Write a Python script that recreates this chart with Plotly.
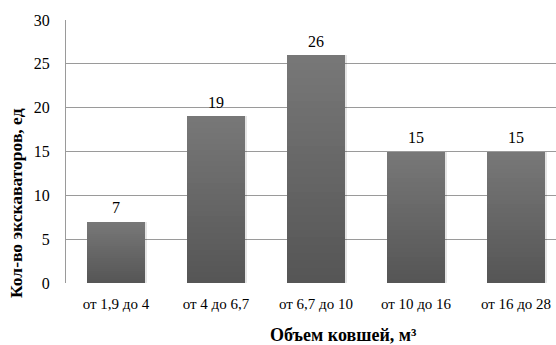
import plotly.graph_objects as go

# Bucket volume ranges and excavator counts
categories = ["от 1,9 до 4", "от 4 до 6,7", "от 6,7 до 10", "от 10 до 16", "от 16 до 28"]
counts = [7, 19, 26, 15, 15]
y_ticks = [0, 5, 10, 15, 20, 25, 30]

x_title = "Объем ковшей, м³"
y_title = "Кол-во экскаваторов, ед"

FONT = "Liberation Serif, Times New Roman, serif"
xs = list(range(len(categories)))

fig = go.Figure()

# Soft drop shadow behind each bar
fig.add_trace(go.Bar(
    x=[x + 0.012 for x in xs], y=counts, width=0.6,
    marker=dict(color="rgba(0,0,0,0.10)", line=dict(width=0)),
    hoverinfo="skip", showlegend=False,
))

# Vertical gradient: each bar is split into slices, lighter toward the top
N = 30
top_rgb = (0x78, 0x78, 0x78)
bot_rgb = (0x55, 0x55, 0x55)
for k in range(N):
    t = (k + 0.5) / N
    c = tuple(round(b + (tp - b) * t) for b, tp in zip(bot_rgb, top_rgb))
    fig.add_trace(go.Bar(
        x=xs,
        y=[v / N * 1.02 if k < N - 1 else v / N for v in counts],
        base=[v * k / N for v in counts],
        width=0.58,
        marker=dict(color="rgb(%d,%d,%d)" % c, line=dict(width=0)),
        hoverinfo="skip", showlegend=False,
    ))

# Value labels above the bars
value_labels = [
    dict(x=x, y=v, xref="x", yref="y", text=str(v), showarrow=False,
         xanchor="center", yanchor="middle", yshift=14,
         font=dict(family=FONT, size=16, color="#000"))
    for x, v in zip(xs, counts)
]

fig.update_layout(
    width=556, height=345,
    margin=dict(l=66, r=0, t=20, b=62),
    paper_bgcolor="white", plot_bgcolor="white",
    barmode="overlay", bargap=0,
    font=dict(family=FONT, size=15, color="#000"),
    xaxis=dict(
        range=[-0.5, 4.4],
        tickmode="array", tickvals=xs, ticktext=categories,
        tickfont=dict(family=FONT, size=15, color="#000"),
        showgrid=False, zeroline=False, showline=False,
        ticks="", ticklabelstandoff=10,
    ),
    yaxis=dict(
        range=[0, 30],
        tickmode="array", tickvals=y_ticks,
        tickfont=dict(family=FONT, size=16, color="#000"),
        showgrid=True, gridcolor="#9a9a9a", gridwidth=1,
        zeroline=False, showline=True, linecolor="#9a9a9a", linewidth=1,
        ticks="", ticklabelstandoff=12,
    ),
    annotations=value_labels + [
        dict(text="<b>" + x_title + "</b>", xref="paper", yref="paper",
             x=(343 - 66) / 490, y=-(335 - 283) / 263, showarrow=False,
             xanchor="center", yanchor="middle",
             font=dict(family=FONT, size=18, color="#000")),
        dict(text="<b>" + y_title + "</b>", xref="paper", yref="paper",
             x=-(66 - 16) / 490, y=(283 - 203) / 263, showarrow=False,
             textangle=-90, xanchor="center", yanchor="middle",
             font=dict(family=FONT, size=17.5, color="#000")),
    ],
)

fig.write_html("out.html")
